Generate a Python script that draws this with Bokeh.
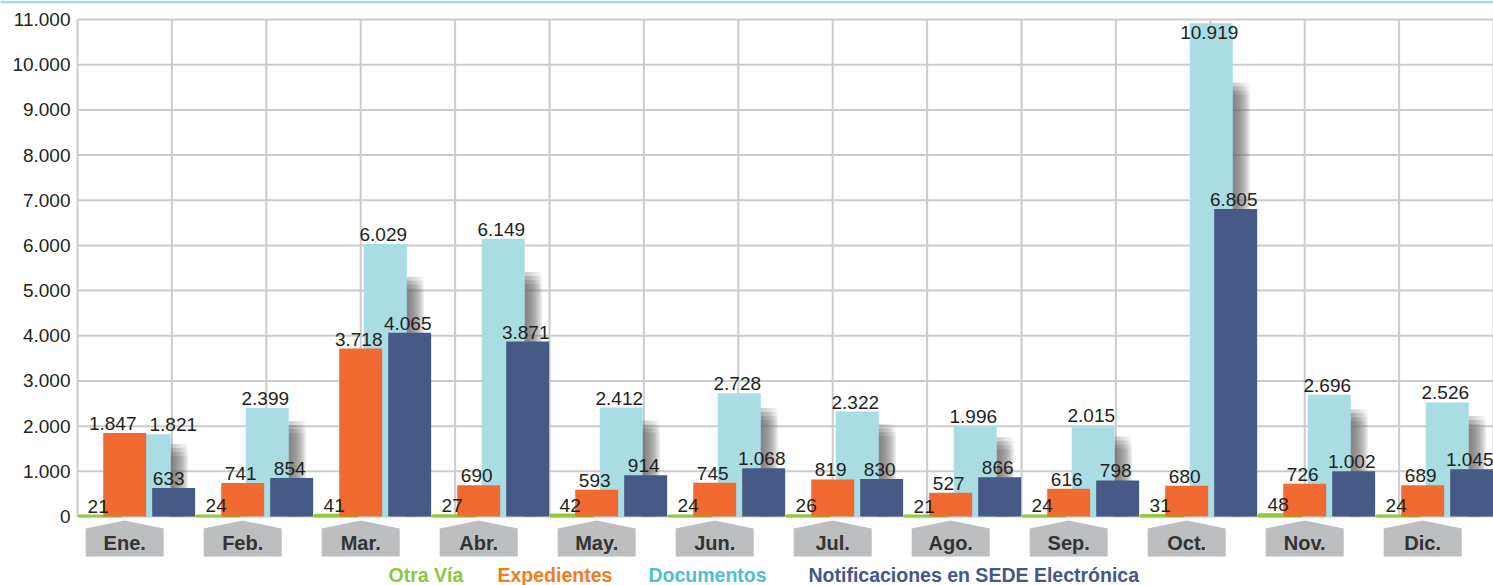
import numpy as np
from bokeh.plotting import figure
from bokeh.models import ColumnDataSource, Range1d
from bokeh.core.properties import value
from bokeh.embed import file_html
from bokeh.resources import INLINE

# ---------------- data ----------------
months = ["Ene.", "Feb.", "Mar.", "Abr.", "May.", "Jun.", "Jul.", "Ago.", "Sep.", "Oct.", "Nov.", "Dic."]
series_names = ["Otra Vía", "Expedientes", "Documentos", "Notificaciones en SEDE Electrónica"]
otra_via = [21, 24, 41, 27, 42, 24, 26, 21, 24, 31, 48, 24]
expedientes = [1847, 741, 3718, 690, 593, 745, 819, 527, 616, 680, 726, 689]
documentos = [1821, 2399, 6029, 6149, 2412, 2728, 2322, 1996, 2015, 10919, 2696, 2526]
notificaciones = [633, 854, 4065, 3871, 914, 1068, 830, 866, 798, 6805, 1002, 1045]
y_ticks = list(range(0, 12000, 1000))

# ---------------- style / layout ----------------
bar_colors = ["#94c83d", "#f06a31", "#a9dce3", "#475a86"]
legend_colors = ["#8dc63f", "#f47b20", "#4cc1cf", "#44578a"]
offsets = [-0.208, 0.0, 0.208, 0.415]
bar_w = 0.364
font = "Liberation Sans"
txt_color = "#231f20"

W, H = 1493, 585
PX_X = 118.0            # pixels per category unit
PX_Y = 45.18 / 1000.0   # pixels per value unit
X0_PX, Y0_PX = 77, 516  # pixel position of (0, 0)

x_start = -X0_PX / PX_X
x_end = (W - X0_PX) / PX_X
y_end = (Y0_PX - 0) / PX_Y
y_start = -(H - Y0_PX) / PX_Y

p = figure(width=W, height=H, output_backend="svg", toolbar_location=None,
           x_range=Range1d(x_start, x_end), y_range=Range1d(y_start, y_end),
           min_border=0, outline_line_color=None)
p.axis.visible = False
p.grid.visible = False
p.background_fill_color = "white"

x_right = 12.0

# top decorative band
p.quad(left=[x_start], right=[x_end], bottom=[y_end - 3 / PX_Y], top=[y_end],
       fill_color="#a9dce3", line_color=None)

# grid lines
p.segment(x0=[0] * len(y_ticks), x1=[x_right] * len(y_ticks), y0=y_ticks, y1=y_ticks,
          line_color="#cccccc", line_width=2)
vx = [k * 0.8 for k in range(16)]
p.segment(x0=vx, x1=vx, y0=[0] * len(vx), y1=[max(y_ticks)] * len(vx),
          line_color="#cccccc", line_width=2)

# y tick labels
p.text(x=[0] * len(y_ticks), y=y_ticks, text=[f"{v:,}".replace(",", ".") for v in y_ticks],
       x_offset=-7, text_align="right", text_baseline="middle",
       text_font=value(font), text_font_size="19px", text_color=txt_color)

centers = np.arange(len(months)) + 0.4
series = [otra_via, expedientes, documentos, notificaciones]

# soft shadows to the right of the Documentos bars (nested translucent quads)
sl, sr, sb, st = [], [], [], []
for i, c in enumerate(centers):
    lb_right = c + offsets[2] + bar_w / 2
    top = documentos[i] * 0.88
    for j in range(8):
        for k in range(4):
            sl.append(lb_right - 1 / PX_X)
            sr.append(lb_right + (3 + 2 * j) / PX_X)
            sb.append(0)
            st.append(top - (4 * k) / PX_Y)
p.quad(left=sl, right=sr, bottom=sb, top=st, fill_color="#707070", fill_alpha=0.05,
       line_color=None)

# bars: Documentos first (back), then green, orange, dark blue
order = [2, 0, 1, 3]
for s in order:
    src = ColumnDataSource(dict(x=centers + offsets[s], top=series[s]))
    if s == 0:
        p.vbar(x="x", top="top", bottom=0, width=bar_w, source=src,
               fill_color=bar_colors[s], line_color=bar_colors[s], line_width=2)
    else:
        p.vbar(x="x", top="top", bottom=0, width=bar_w, source=src,
               fill_color=bar_colors[s], line_color=None)

# value labels
nudges = {(0, 1): -12, (0, 2): 24, (0, 3): -5}
for s in [0, 1, 2, 3]:
    xs, ys, texts, xo, yo, bl = [], [], [], [], [], []
    for i, c in enumerate(centers):
        v = series[s][i]
        xs.append(c + offsets[s])
        ys.append(v)
        texts.append(f"{v:,}".replace(",", "."))
        xo.append(nudges.get((i, s), -2))
        if v > 10000:
            yo.append(3)
            bl.append("top")
        else:
            yo.append(-3)
            bl.append("bottom")
    src = ColumnDataSource(dict(x=xs, y=ys, t=texts, xo=xo, yo=yo, bl=bl))
    p.text(x="x", y="y", text="t", x_offset="xo", y_offset="yo", text_baseline="bl",
           text_align="center", source=src, text_font=value(font),
           text_font_size="19px", text_color=txt_color)

# month label boxes (pentagon shapes)
half = 39 / PX_X
xs_list, ys_list = [], []
for c in centers:
    xs_list.append([c - half, c - half, c, c + half, c + half])
    ys_list.append([-40 / PX_Y, -12 / PX_Y, -4 / PX_Y, -12 / PX_Y, -40 / PX_Y])
p.patches(xs=xs_list, ys=ys_list, fill_color="#bcbec0", line_color=None)
p.text(x=centers, y=[-26 / PX_Y] * len(months), text=months, text_align="center",
       text_baseline="middle", text_font=value(font), text_font_style="bold",
       text_font_size="20px", text_color="#333333")

# legend (as coloured texts)
legend_x_px = [388, 497, 648, 808]
for n, name in enumerate(series_names):
    p.text(x=[(legend_x_px[n] - X0_PX) / PX_X], y=[-(574 - Y0_PX) / PX_Y], text=[name],
           text_align="left", text_baseline="middle", text_font=value(font),
           text_font_style="bold", text_font_size="19.5px", text_color=legend_colors[n])

open("out.html", "w").write(file_html(p, INLINE))
